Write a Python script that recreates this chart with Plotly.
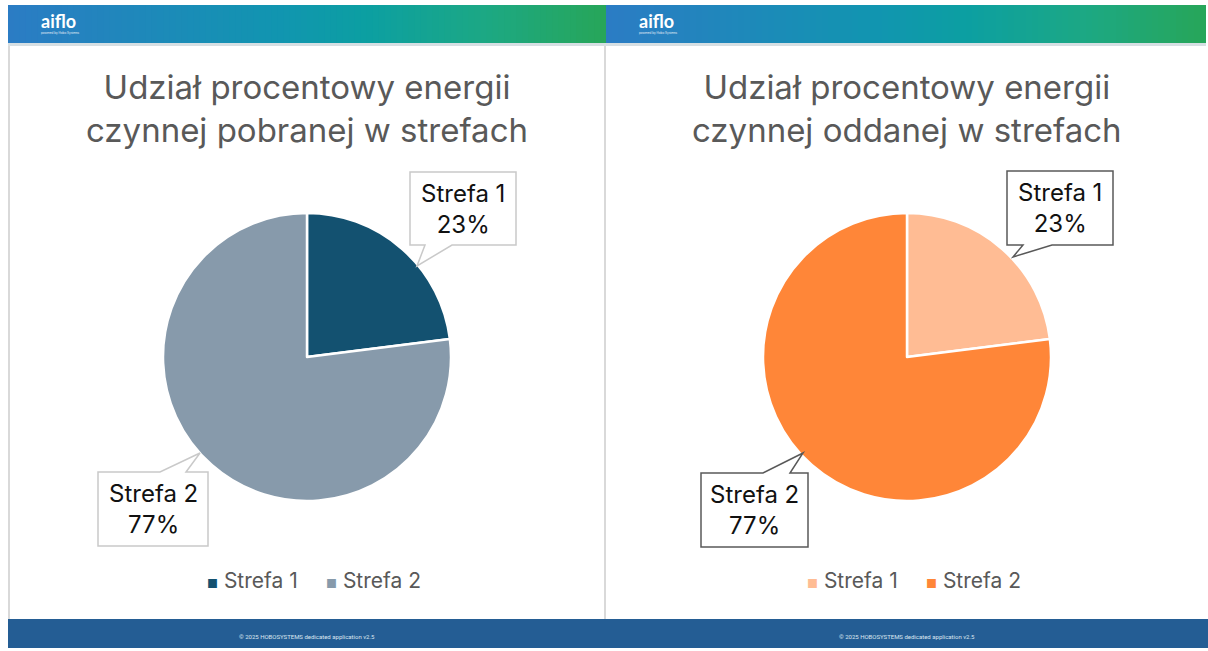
import plotly.graph_objects as go

# data
categories = ["Strefa 1", "Strefa 2"]
share_pobrana = [23, 77]
share_oddana = [23, 77]

titles = ["Udział procentowy energii<br>czynnej pobranej w strefach",
          "Udział procentowy energii<br>czynnej oddanej w strefach"]
colors_pobrana = ["#135170", "#879aab"]
colors_oddana = ["#ffbc94", "#ff8638"]
footer_text = "© 2025 HOBOSYSTEMS dedicated application v2.5"

W, H = 1208, 651
FONT = "Inter, Noto Sans, sans-serif"


def px(x):
    return x / W


def py(y):
    return 1 - y / H


def lerp_color(stops, t):
    for (t0, c0), (t1, c1) in zip(stops, stops[1:]):
        if t <= t1:
            f = (t - t0) / (t1 - t0) if t1 > t0 else 0
            a = [int(c0[i:i + 2], 16) for i in (1, 3, 5)]
            b = [int(c1[i:i + 2], 16) for i in (1, 3, 5)]
            return "rgb(%d,%d,%d)" % tuple(round(a[k] + (b[k] - a[k]) * f) for k in range(3))
    return stops[-1][1]


header_stops = [(0, "#2b7cc4"), (0.45, "#1195b0"), (0.6, "#0c9fa2"), (0.8, "#1ca884"), (1, "#27a65a")]


def text(x, y, s, size, color, family=FONT, xanchor="center"):
    return dict(x=px(x), y=py(y), xref="paper", yref="paper", text=s, showarrow=False,
                xanchor=xanchor, yanchor="middle", font=dict(size=size, color=color, family=family))


fig = go.Figure()

panels = [
    dict(x0=8, x1=606, cx=307, values=share_pobrana, colors=colors_pobrana, title=titles[0],
         border="#c9c9c9",
         call1=dict(box=(410, 172, 516, 245), tail=(425, 452, 417, 266)),
         call2=dict(box=(98, 472, 208, 546), tail=(160, 186, 200, 453))),
    dict(x0=606, x1=1206, cx=907, values=share_oddana, colors=colors_oddana, title=titles[1],
         border="#595959",
         call1=dict(box=(1007, 171, 1113, 245), tail=(1023, 1052, 1013, 257)),
         call2=dict(box=(701, 473, 808, 547), tail=(763, 790, 803, 453))),
]

shapes = []
annotations = []

for p in panels:
    # header gradient made of thin strips
    n = 100
    step = (p["x1"] - p["x0"]) / n
    for i in range(n):
        xa = p["x0"] + i * step
        xb = min(xa + step + 2, p["x1"])
        shapes.append(dict(type="rect", xref="paper", yref="paper",
                           x0=px(xa), x1=px(xb), y0=py(43), y1=py(5),
                           fillcolor=lerp_color(header_stops, i / (n - 1)), line_width=0, layer="below"))
    shapes.append(dict(type="rect", xref="paper", yref="paper", x0=px(p["x0"]), x1=px(p["x1"]),
                       y0=py(46), y1=py(43), fillcolor="#d6dfe3", line_width=0, layer="below"))
    # footer
    shapes.append(dict(type="rect", xref="paper", yref="paper", x0=px(p["x0"]), x1=px(p["x1"] + 2),
                       y0=py(648), y1=py(619), fillcolor="#245d94", line_width=0, layer="below"))
    annotations.append(text(p["cx"], 636, footer_text, 6, "#dbe6f0", "Liberation Sans Narrow, Roboto"))
    # logo
    annotations.append(text(p["x0"] + 31, 21, "<b>aiflo</b>", 18, "white", "Lato", xanchor="left"))
    annotations.append(text(p["x0"] + 31, 33, "powered by Hobo Systems", 3, "#e8f0f8", xanchor="left"))
    # title
    annotations.append(text(p["cx"], 109, p["title"], 33, "#595959"))

    # pie
    fig.add_trace(go.Pie(labels=categories, values=p["values"], sort=False, direction="clockwise",
                         rotation=0, textinfo="none", hoverinfo="label+percent",
                         marker=dict(colors=p["colors"], line=dict(color="white", width=2.5)),
                         domain=dict(x=[px(p["cx"] - 144), px(p["cx"] + 144)], y=[py(501), py(213)]),
                         showlegend=False))

    # callouts
    total = sum(p["values"])
    for key, idx, tail_on_top in (("call1", 0, False), ("call2", 1, True)):
        c = p[key]
        bx0, by0, bx1, by1 = c["box"]
        ta, tb, tx, ty = c["tail"]
        if tail_on_top:
            path = (f"M {px(bx0)},{py(by0)} L {px(ta)},{py(by0)} L {px(tx)},{py(ty)} L {px(tb)},{py(by0)} "
                    f"L {px(bx1)},{py(by0)} L {px(bx1)},{py(by1)} L {px(bx0)},{py(by1)} Z")
        else:
            path = (f"M {px(bx0)},{py(by0)} L {px(bx1)},{py(by0)} L {px(bx1)},{py(by1)} L {px(tb)},{py(by1)} "
                    f"L {px(tx)},{py(ty)} L {px(ta)},{py(by1)} L {px(bx0)},{py(by1)} Z")
        shapes.append(dict(type="path", xref="paper", yref="paper", path=path, fillcolor="white",
                           line=dict(color=p["border"], width=1.5), layer="above"))
        pct = round(p["values"][idx] / total * 100)
        annotations.append(text((bx0 + bx1) / 2, (by0 + by1) / 2, f"{categories[idx]}<br>{pct}%",
                                24, "#111111"))

    # legend
    legend_x = [p["cx"] - 102, p["cx"] + 17]
    for i, name in enumerate(categories):
        annotations.append(text(legend_x[i], 580,
                                f"<span style='color:{p['colors'][i]};font-size:12px'>■</span> {name}",
                                21, "#595959", xanchor="left"))

# panel borders
shapes.append(dict(type="line", xref="paper", yref="paper", x0=px(9), x1=px(9), y0=py(46), y1=py(619),
                   line=dict(color="#d9d9d9", width=2)))
shapes.append(dict(type="line", xref="paper", yref="paper", x0=px(605), x1=px(605), y0=py(46), y1=py(619),
                   line=dict(color="#d9d9d9", width=2)))

fig.update_layout(width=W, height=H, margin=dict(l=0, r=0, t=0, b=0),
                  paper_bgcolor="white", plot_bgcolor="white",
                  shapes=shapes, annotations=annotations, showlegend=False)

# drop the default body margin so the figure fills the window exactly
fig.write_html("out.html", config={"displayModeBar": False},
               post_script="document.body.style.margin='0';document.body.style.overflow='hidden';")
